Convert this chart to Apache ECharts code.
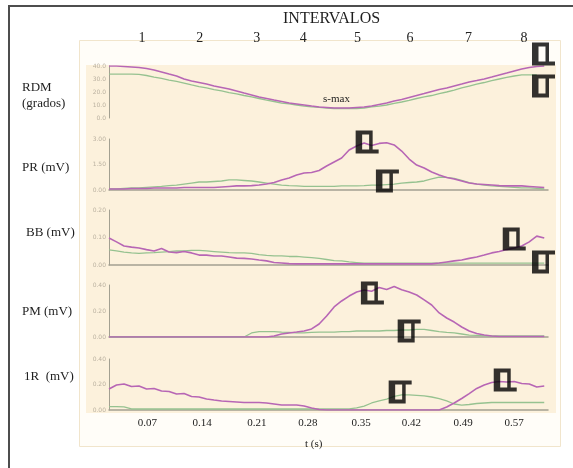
<!DOCTYPE html>
<html>
<head>
<meta charset="utf-8">
<title>INTERVALOS</title>
<script src="https://cdn.jsdelivr.net/npm/echarts@6/dist/echarts.min.js"></script>
<style>
    html, body { margin: 0; padding: 0; background: #fff; }
    #main { width: 573px; height: 468px; }
</style>
</head>
<body>
<div id="main"></div>
<script type="text/javascript">
var myChart = echarts.init(document.getElementById('main'));

// tiempo (s) de cada muestra
var tiempo = [0.02,0.03,0.04,0.05,0.06,0.07,0.08,0.09,0.10,0.11,0.12,0.13,0.14,0.15,0.16,0.17,0.18,0.19,0.20,0.21,
    0.22,0.23,0.24,0.25,0.26,0.27,0.28,0.29,0.30,0.31,0.32,0.33,0.34,0.35,0.36,0.37,0.38,0.39,0.40,0.41,
    0.42,0.43,0.44,0.45,0.46,0.47,0.48,0.49,0.50,0.51,0.52,0.53,0.54,0.55,0.56,0.57,0.58,0.59,0.60];

// RDM (grados)
var rdmMagenta = [40.0,40.0,39.6,39.2,38.8,38.1,36.9,35.4,33.8,32.3,
    30.0,28.5,27.3,26.1,24.6,23.5,22.3,20.8,19.2,17.7,
    16.2,15.0,13.8,12.7,11.5,10.8,10.0,9.2,8.5,8.1,
    7.7,7.7,7.7,8.1,8.5,9.2,10.4,11.5,13.1,14.2,
    15.8,17.3,18.8,20.4,21.9,23.1,24.6,26.1,27.7,28.8,
    30.0,31.5,33.1,34.6,36.2,37.7,38.8,39.6,40.0];
var rdmVerde = [33.8,33.8,33.8,33.8,33.5,32.7,31.5,30.4,29.2,28.1,
    26.9,25.4,24.2,23.1,21.9,20.8,19.6,18.5,17.3,16.2,
    15.0,13.8,12.7,11.5,10.8,10.0,9.2,8.5,8.1,7.7,
    7.3,7.3,7.3,7.3,7.7,8.5,9.2,10.0,11.2,12.3,
    13.5,15.0,16.2,17.3,18.8,20.0,21.5,23.1,24.6,26.1,
    27.3,28.8,30.0,31.2,32.3,33.1,33.1,33.1,null];

// PR (mV)
var prMagenta = [0.06,0.06,0.06,0.09,0.09,0.09,0.12,0.12,0.12,0.12,
    0.15,0.15,0.15,0.15,0.15,0.18,0.21,0.24,0.24,0.26,
    0.29,0.35,0.44,0.59,0.71,0.88,1.00,1.03,1.15,1.41,
    1.65,1.88,2.35,2.59,2.76,2.62,2.74,2.78,2.65,2.29,
    1.82,1.47,1.29,1.06,0.88,0.74,0.65,0.53,0.41,0.35,
    0.32,0.29,0.26,0.24,0.24,0.24,0.21,0.18,0.15];
var prVerde = [0.06,0.06,0.09,0.12,0.12,0.15,0.18,0.21,0.26,0.29,
    0.35,0.41,0.47,0.47,0.50,0.53,0.59,0.59,0.56,0.53,
    0.47,0.41,0.35,0.29,0.26,0.24,0.21,0.21,0.21,0.21,
    0.21,0.24,0.24,0.24,0.26,0.29,0.29,0.32,0.35,0.41,
    0.44,0.47,0.53,0.65,0.76,0.74,0.68,0.56,0.44,0.35,
    0.29,0.24,0.21,0.18,0.15,0.12,0.12,0.09,0.06];

// BB (mV)
var bbMagenta = [0.098,0.084,0.069,0.065,0.062,0.056,0.051,0.060,0.047,0.045,
    0.049,0.044,0.036,0.036,0.033,0.033,0.029,0.025,0.024,0.022,
    0.018,0.015,0.009,0.007,0.005,0.004,0.004,0.004,0.004,0.004,
    0.004,0.004,0.004,0.004,0.004,0.004,0.004,0.004,0.004,0.004,
    0.004,0.004,0.004,0.004,0.007,0.011,0.015,0.018,0.024,0.029,
    0.036,0.044,0.049,0.056,0.062,0.069,0.084,0.105,0.098];
var bbVerde = [0.055,0.051,0.047,0.044,0.042,0.044,0.045,0.047,0.049,0.051,
    0.051,0.053,0.053,0.051,0.049,0.047,0.045,0.044,0.044,0.042,
    0.038,0.035,0.033,0.033,0.031,0.031,0.029,0.027,0.024,0.020,
    0.016,0.015,0.011,0.009,0.007,0.007,0.007,0.007,0.007,0.007,
    0.007,0.007,0.007,0.007,0.007,0.007,0.007,0.007,0.007,0.007,
    0.007,0.007,0.007,0.007,0.007,0.007,0.007,0.007,0.007];

// PM (mV)
var pmMagenta = [0,0,0,0,0,0,0,0,0,0,
    0,0,0,0,0,0,0,0,0,0,
    0,0,0.008,0.023,0.031,0.038,0.046,0.062,0.100,0.162,
    0.231,0.277,0.315,0.346,0.361,0.352,0.381,0.366,0.388,0.364,
    0.346,0.323,0.285,0.246,0.185,0.146,0.115,0.077,0.046,0.027,
    0.015,0.008,0.004,0.004,0.004,0.004,0.004,0.004,0.004];
var pmVerde = [0,0,0,0,0,0,0,0,0,0,
    0,0,0,0,0,0,0,0,0,0.031,
    0.042,0.042,0.042,0.038,0.035,0.031,0.031,0.035,0.038,0.038,
    0.038,0.042,0.042,0.046,0.046,0.046,0.046,0.050,0.050,0.054,
    0.054,0.058,0.058,0.050,0.042,0.035,0.031,0.023,0.015,0.012,
    0.008,0.008,0.008,0.008,0.008,0.008,0.008,0.008,0.008];

// 1R (mV)
var r1Magenta = [0.165,0.196,0.204,0.184,0.188,0.165,0.169,0.149,0.145,0.125,
    0.129,0.106,0.102,0.086,0.078,0.071,0.067,0.063,0.059,0.059,
    0.059,0.055,0.047,0.039,0.039,0.039,0.031,0.016,0.004,0,
    0,0,0,0,0,0,0,0,0,0,
    0,0,0,0,0,0.024,0.055,0.090,0.129,0.169,
    0.196,0.216,0.223,0.220,0.223,0.208,0.204,0.180,0.188];
var r1Verde = [0.027,0.027,0.024,0.008,0.008,0.008,0.008,0.008,0.008,0.008,
    0.008,0.008,0.008,0.008,0.008,0.008,0.008,0.008,0.008,0.008,
    0.008,0.008,0.008,0.008,0.008,0.008,0.008,0.008,0.008,0.008,
    0.008,0.008,0.008,0.016,0.031,0.055,0.071,0.086,0.106,0.118,
    0.118,0.114,0.110,0.102,0.090,0.071,0.047,0.039,0.043,0.051,
    0.055,0.059,0.059,0.059,0.059,0.059,0.059,0.059,0.059];

// marcas dibujadas a mano (t, valor), una por panel
var marcaA = [[0.599, 49.2], [0.364, 2.82], [0.560, 0.0945], [0.371, 0.338], [0.548, 0.235]];
var marcaB = [[0.599, 24.6], [0.391, 0.53], [0.599, 0.011], [0.420, 0.046], [0.408, 0.141]];

// etiquetas de los ejes
var intervalos = ['1', '2', '3', '4', '5', '6', '7', '8'];
var intervalosT = [0.064, 0.141, 0.217, 0.279, 0.351, 0.421, 0.499, 0.573];
var etiquetasT = ['0.07', '0.14', '0.21', '0.28', '0.35', '0.42', '0.49', '0.57'];
var etiquetasTPos = [0.071, 0.144, 0.217, 0.285, 0.356, 0.423, 0.492, 0.560];

var magentas = [rdmMagenta, prMagenta, bbMagenta, pmMagenta, r1Magenta];
var verdes = [rdmVerde, prVerde, bbVerde, pmVerde, r1Verde];

var serif = '"Liberation Serif", "DejaVu Serif", serif';
var colorMagenta = '#b766b5';
var colorVerde = '#96c290';
var colorEje = '#a3a091';

// paneles: posicion vertical y escala
var paneles = [
    {top: 66, height: 52, max: 40, interval: 10, dec: 1},
    {top: 139, height: 51, max: 3, interval: 1.5, dec: 2},
    {top: 210, height: 55, max: 0.2, interval: 0.1, dec: 2},
    {top: 285, height: 52, max: 0.4, interval: 0.2, dec: 2},
    {top: 359, height: 51, max: 0.4, interval: 0.2, dec: 2}
];

function pares(valores) {
    var out = [];
    for (var i = 0; i < tiempo.length; i++) {
        out.push([tiempo[i], valores[i]]);
    }
    return out;
}

function buscar(lista, v) {
    for (var i = 0; i < lista.length; i++) {
        if (Math.abs(lista[i] - v) < 1e-6) return i;
    }
    return -1;
}

// marca con la linea inferior prolongada
var simboloA = 'path://M0 0h6.5v23h-6.5z M0 0h17v4h-17z M13.5 0h3.5v23h-3.5z M0 19h23v4h-23z';
// marca con la linea superior prolongada
var simboloB = 'path://M0 0h6.5v23h-6.5z M0 0h23v4h-23z M13.5 0h3.5v23h-3.5z M0 19h17v4h-17z';

var grids = [], xAxes = [], yAxes = [], series = [];
for (var k = 0; k < paneles.length; k++) {
    var p = paneles[k];
    grids.push({left: 109, width: 439, top: p.top, height: p.height});
    xAxes.push({
        gridIndex: k, type: 'value', min: 0.02, max: 0.605,
        axisLine: {show: k > 0, lineStyle: {color: colorEje, width: 1.5}},
        axisTick: {show: false},
        axisLabel: {show: false},
        splitLine: {show: false}
    });
    yAxes.push({
        gridIndex: k, type: 'value', min: 0, max: p.max, interval: p.interval,
        axisLine: {show: true, lineStyle: {color: colorEje, width: 1}},
        axisTick: {show: false},
        splitLine: {show: false},
        axisLabel: {
            fontSize: 6, color: '#bbb2a1', margin: 3, fontFamily: 'DejaVu Sans',
            formatter: (function (d) { return function (v) { return v.toFixed(d); }; })(p.dec)
        }
    });
    series.push({
        type: 'line', xAxisIndex: k, yAxisIndex: k, showSymbol: false, silent: true,
        lineStyle: {color: colorVerde, width: 1.3}, data: pares(verdes[k])
    });
    series.push({
        type: 'line', xAxisIndex: k, yAxisIndex: k, showSymbol: false, silent: true,
        lineStyle: {color: colorMagenta, width: 1.6}, data: pares(magentas[k])
    });
    series.push({
        type: 'scatter', xAxisIndex: k, yAxisIndex: k, clip: false, z: 5,
        symbol: simboloA, symbolSize: [23, 23], itemStyle: {color: '#000'},
        data: [marcaA[k]]
    });
    series.push({
        type: 'scatter', xAxisIndex: k, yAxisIndex: k, clip: false, z: 5,
        symbol: simboloB, symbolSize: [23, 23], itemStyle: {color: '#000'},
        data: [marcaB[k]]
    });
}

// etiquetas de tiempo en el panel inferior
xAxes[4].axisLabel = {
    show: true, customValues: etiquetasTPos, margin: 8,
    fontSize: 11, fontFamily: serif, color: '#222',
    formatter: function (v) { var i = buscar(etiquetasTPos, v); return i >= 0 ? etiquetasT[i] : ''; }
};
// numeros de intervalo arriba
xAxes.push({
    gridIndex: 0, type: 'value', position: 'top', min: 0.02, max: 0.605,
    axisLine: {show: false}, axisTick: {show: false}, splitLine: {show: false},
    axisLabel: {
        customValues: intervalosT, margin: 21,
        fontSize: 14, fontFamily: serif, color: '#222',
        formatter: function (v) { var i = buscar(intervalosT, v); return i >= 0 ? intervalos[i] : ''; }
    }
});

function texto(t, x, y, size) {
    return {
        type: 'text', x: x, y: y, z: 100,
        style: {text: t, font: size + 'px ' + serif, fill: '#1e1e1e',
            textVerticalAlign: 'middle', verticalAlign: 'middle'}
    };
}

var chartOption = {
    animation: false,
    backgroundColor: '#fff',
    grid: grids,
    xAxis: xAxes,
    yAxis: yAxes,
    series: series,
    graphic: [
        {type: 'rect', z: -100, shape: {x: 79.5, y: 40.5, width: 481, height: 406},
            style: {fill: '#fffdf8', stroke: '#f1e5cc', lineWidth: 1}},
        {type: 'rect', z: -99, shape: {x: 86, y: 65, width: 470, height: 348},
            style: {fill: '#fcf1dc'}},
        {type: 'polyline', z: 100, shape: {points: [[9, 468], [9, 6], [573, 6]]},
            style: {stroke: '#4d4d4d', lineWidth: 2, fill: null}},
        texto('INTERVALOS', 283, 19, 16),
        texto('RDM', 22, 88, 13),
        texto('(grados)', 22, 104, 13),
        texto('PR (mV)', 22, 168, 13),
        texto('BB (mV)', 26, 233, 13),
        texto('PM (mV)', 22, 312, 13),
        texto('1R  (mV)', 24, 377, 13),
        texto('s-max', 323, 99, 11),
        texto('t (s)', 305, 444, 11)
    ]
};
myChart.setOption(chartOption);
</script>
</body>
</html>
